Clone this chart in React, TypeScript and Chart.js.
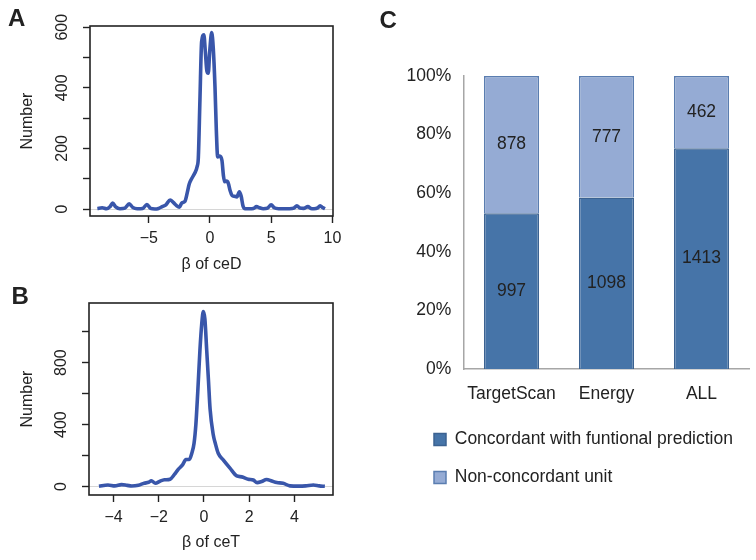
import React, { useEffect, useRef } from 'react';
import { Chart, registerables } from 'chart.js';

Chart.register(...registerables);

const FONT = "'Liberation Sans', Arial, Helvetica, sans-serif";
const INK = '#222222';
const LINE_BLUE = '#3956AA';

// ---------- Panel A: distribution of beta of ceD ----------
const ceDBeta = [-9.2, -8.8, -8.45, -8.15, -7.95, -7.7, -7.35, -6.95, -6.6, -6.3, -5.95, -5.5, -5.15, -4.85, -4.5, -4.2, -3.9, -3.6, -3.25, -3.0, -2.75, -2.5, -2.3, -2.05, -1.85, -1.7, -1.5, -1.25, -1.05, -0.95, -0.82, -0.68, -0.5, -0.38, -0.25, -0.14, -0.02, 0.14, 0.27, 0.41, 0.52, 0.63, 0.8, 0.98, 1.1, 1.2, 1.35, 1.5, 1.65, 1.8, 2.0, 2.2, 2.4, 2.55, 2.7, 2.87, 3.2, 3.55, 3.8, 4.05, 4.35, 4.7, 5.0, 5.25, 5.6, 6.0, 6.5, 6.85, 7.1, 7.35, 7.65, 8.0, 8.25, 8.5, 8.8, 9.0, 9.2, 9.4];
const ceDCount = [2, 4, 1, 8, 20, 7, 1, 3, 17, 5, 1, 2, 15, 2, 0, 2, 8, 14, 30, 22, 12, 6, 20, 25, 55, 82, 100, 118, 140, 170, 360, 553, 575, 520, 455, 448, 520, 582, 530, 403, 260, 172, 175, 160, 110, 90, 92, 85, 60, 45, 42, 40, 57, 42, 10, 1, 1, 2, 8, 4, 1, 3, 14, 4, 1, 1, 1, 3, 11, 3, 2, 8, 2, 1, 4, 11, 5, 1];
const ceDXTicks = [-5, 0, 5, 10];
const ceDYTicks = [0, 100, 200, 300, 400, 500, 600];
const ceDYLabels = [0, 200, 400, 600];

// ---------- Panel B: distribution of beta of ceT ----------
const ceTBeta = [-4.65, -4.25, -3.95, -3.65, -3.4, -3.2, -2.9, -2.65, -2.45, -2.33, -2.15, -1.95, -1.75, -1.5, -1.3, -1.15, -0.95, -0.8, -0.65, -0.54, -0.44, -0.36, -0.28, -0.18, -0.1, -0.03, 0.04, 0.12, 0.2, 0.27, 0.41, 0.5, 0.63, 0.85, 1.15, 1.45, 1.67, 1.96, 2.18, 2.35, 2.55, 2.77, 3.0, 3.22, 3.5, 3.8, 4.2, 4.5, 4.84, 5.1, 5.35];
const ceTCount = [2, 11, 5, 13, 8, 4, 9, 22, 28, 38, 22, 35, 44, 48, 80, 110, 140, 175, 175, 215, 280, 400, 600, 880, 1050, 1130, 1080, 880, 680, 500, 335, 280, 215, 172, 119, 69, 63, 48, 43, 26, 33, 46, 36, 26, 22, 5, 3, 5, 11, 5, 2];
const ceTXTicks = [-4, -2, 0, 2, 4];
const ceTYTicks = [0, 200, 400, 600, 800, 1000];
const ceTYLabels = [0, 400, 800];

// ---------- Panel C: concordance ----------
const methods = ['TargetScan', 'Energy', 'ALL'];
const concordant = [997, 1098, 1413];
const nonConcordant = [878, 777, 462];
const seriesNames = ['Concordant with funtional prediction', 'Non-concordant unit'];

const DARK = '#4674A8';
const DARK_BORDER = '#3B6291';
const LIGHT = '#95ABD4';
const LIGHT_BORDER = '#5A7DB0';

const rMinus = (v: number) => (v < 0 ? '\u2212' + Math.abs(v) : String(v));

const boxPlugin = {
  id: 'rbox',
  afterDatasetsDraw(chart: any) {
    const { ctx, chartArea: a } = chart;
    ctx.save();
    ctx.strokeStyle = INK;
    ctx.lineWidth = 1.6;
    ctx.strokeRect(a.left, a.top, a.right - a.left, a.bottom - a.top);
    ctx.restore();
  },
};

const countLabels = {
  id: 'countLabels',
  afterDatasetsDraw(chart: any) {
    const ctx = chart.ctx;
    ctx.save();
    ctx.font = `17.5px ${FONT}`;
    ctx.fillStyle = INK;
    ctx.textAlign = 'center';
    ctx.textBaseline = 'middle';
    chart.data.datasets.forEach((ds: any, di: number) => {
      chart.getDatasetMeta(di).data.forEach((el: any, i: number) => {
        const p = el.getCenterPoint();
        ctx.fillText(String(ds.counts[i]), p.x, p.y);
      });
    });
    ctx.restore();
  },
};

interface DensityOpts {
  xs: number[];
  ys: number[];
  xMin: number;
  xMax: number;
  xTicks: number[];
  yMin: number;
  yMax: number;
  yTicks: number[];
  yLabels: number[];
  title: string;
  padTop: number;
  xAxisH: number;
  yAxisW: number;
  titleBottom: number;
}

function densityConfig(o: DensityOpts): any {
  const font = { family: FONT, size: 16 };
  return {
    type: 'line',
    data: {
      datasets: [
        {
          data: o.xs.map((x, i) => ({ x, y: o.ys[i] })),
          borderColor: LINE_BLUE,
          borderWidth: 3.6,
          pointRadius: 0,
          cubicInterpolationMode: 'monotone',
          fill: false,
        },
      ],
    },
    options: {
      animation: false,
      responsive: false,
      layout: { padding: { left: 0, top: o.padTop, right: 27, bottom: 0 } },
      plugins: { legend: { display: false }, tooltip: { enabled: false } },
      scales: {
        x: {
          type: 'linear',
          min: o.xMin,
          max: o.xMax,
          afterBuildTicks: (s: any) => {
            s.ticks = o.xTicks.map((v) => ({ value: v }));
          },
          afterFit: (s: any) => {
            s.height = o.xAxisH;
          },
          ticks: {
            font,
            color: INK,
            padding: 6,
            maxRotation: 0,
            minRotation: 0,
            autoSkip: false,
            callback: (v: any) => rMinus(Number(v)),
          },
          grid: { drawOnChartArea: false, tickLength: 7, tickColor: INK, tickWidth: 1.4 },
          border: { display: false },
          title: {
            display: true,
            text: o.title,
            font,
            color: INK,
            padding: { top: 0, bottom: o.titleBottom },
          },
        },
        y: {
          min: o.yMin,
          max: o.yMax,
          afterBuildTicks: (s: any) => {
            s.ticks = o.yTicks.map((v) => ({ value: v }));
          },
          afterFit: (s: any) => {
            s.width = o.yAxisW;
          },
          ticks: {
            font,
            color: INK,
            padding: 7,
            minRotation: 90,
            maxRotation: 90,
            crossAlign: 'center',
            autoSkip: false,
            callback: (v: any) => (o.yLabels.includes(Number(v)) ? String(v) : ''),
          },
          grid: {
            drawOnChartArea: true,
            color: (c: any) => (c.tick && c.tick.value === 0 ? '#D6D6D6' : 'rgba(0,0,0,0)'),
            lineWidth: 1,
            tickLength: 7,
            tickColor: INK,
            tickWidth: 1.4,
          },
          border: { display: false },
          title: {
            display: true,
            text: 'Number',
            font,
            color: INK,
            padding: { top: 17.5, bottom: 0 },
          },
        },
      },
    },
    plugins: [boxPlugin],
  };
}

function stackedConfig(): any {
  const totals = methods.map((_, i) => concordant[i] + nonConcordant[i]);
  const pct = (arr: number[]) => arr.map((v, i) => (v / totals[i]) * 100);
  const font = { family: FONT, size: 17.5 };
  return {
    type: 'bar',
    data: {
      labels: methods,
      datasets: [
        {
          label: seriesNames[0],
          data: pct(concordant),
          counts: concordant,
          backgroundColor: DARK,
          borderColor: DARK_BORDER,
          borderWidth: 1.5,
          categoryPercentage: 1,
          barPercentage: 0.58,
        },
        {
          label: seriesNames[1],
          data: pct(nonConcordant),
          counts: nonConcordant,
          backgroundColor: LIGHT,
          borderColor: LIGHT_BORDER,
          borderWidth: 1.5,
          categoryPercentage: 1,
          barPercentage: 0.58,
        },
      ],
    },
    options: {
      animation: false,
      responsive: false,
      layout: { padding: { left: 53.5, top: 76, right: 7, bottom: 63.75 } },
      plugins: {
        tooltip: { enabled: false },
        legend: {
          position: 'bottom',
          align: 'start',
          labels: {
            boxWidth: 12,
            boxHeight: 12,
            padding: 20.5,
            font,
            color: INK,
          },
        },
      },
      scales: {
        x: {
          stacked: true,
          afterFit: (s: any) => {
            s.height = 41.25;
          },
          ticks: { font, color: INK, padding: 15, maxRotation: 0, minRotation: 0, autoSkip: false },
          grid: { display: false, drawTicks: false },
          border: { display: true, color: '#A6A6A6', width: 1.5 },
        },
        y: {
          stacked: true,
          min: 0,
          max: 100,
          afterFit: (s: any) => {
            s.width = 50.5;
          },
          ticks: {
            stepSize: 20,
            font,
            color: INK,
            mirror: true,
            crossAlign: 'far',
            padding: -57.5,
            callback: (v: any) => v + '%',
          },
          grid: { display: false, drawTicks: false },
          border: { display: true, color: '#A6A6A6', width: 1.5 },
        },
      },
    },
    plugins: [countLabels],
  };
}

function ChartCanvas(props: { left: number; top: number; width: number; height: number; make: () => any }) {
  const ref = useRef<HTMLCanvasElement>(null);
  useEffect(() => {
    const chart = new Chart(ref.current as HTMLCanvasElement, props.make());
    return () => chart.destroy();
  }, []);
  return (
    <canvas
      ref={ref}
      width={props.width}
      height={props.height}
      style={{ position: 'absolute', left: props.left, top: props.top, width: props.width, height: props.height }}
    />
  );
}

const letterStyle = (left: number, top: number): React.CSSProperties => ({
  position: 'absolute',
  left,
  top,
  fontFamily: FONT,
  fontWeight: 'bold',
  fontSize: 24,
  lineHeight: '24px',
  color: INK,
});

export default function App() {
  return (
    <div style={{ position: 'absolute', left: 0, top: 0, width: 756, height: 560, background: '#fff', overflow: 'hidden' }}>
      <ChartCanvas
        left={0}
        top={0}
        width={360}
        height={280}
        make={() =>
          densityConfig({
            xs: ceDBeta,
            ys: ceDCount,
            xMin: -9.8,
            xMax: 10.05,
            xTicks: ceDXTicks,
            yMin: -23,
            yMax: 604,
            yTicks: ceDYTicks,
            yLabels: ceDYLabels,
            title: 'β of ceD',
            padTop: 26,
            xAxisH: 64,
            yAxisW: 90,
            titleBottom: 5.4,
          })
        }
      />
      <ChartCanvas
        left={0}
        top={270}
        width={360}
        height={290}
        make={() =>
          densityConfig({
            xs: ceTBeta,
            ys: ceTCount,
            xMin: -5.09,
            xMax: 5.71,
            xTicks: ceTXTicks,
            yMin: -54,
            yMax: 1185,
            yTicks: ceTYTicks,
            yLabels: ceTYLabels,
            title: 'β of ceT',
            padTop: 33,
            xAxisH: 65,
            yAxisW: 89,
            titleBottom: 7.4,
          })
        }
      />
      <ChartCanvas left={360} top={0} width={396} height={560} make={stackedConfig} />
      <div style={letterStyle(8, 6)}>A</div>
      <div style={letterStyle(11.5, 284)}>B</div>
      <div style={letterStyle(379.5, 8)}>C</div>
    </div>
  );
}
